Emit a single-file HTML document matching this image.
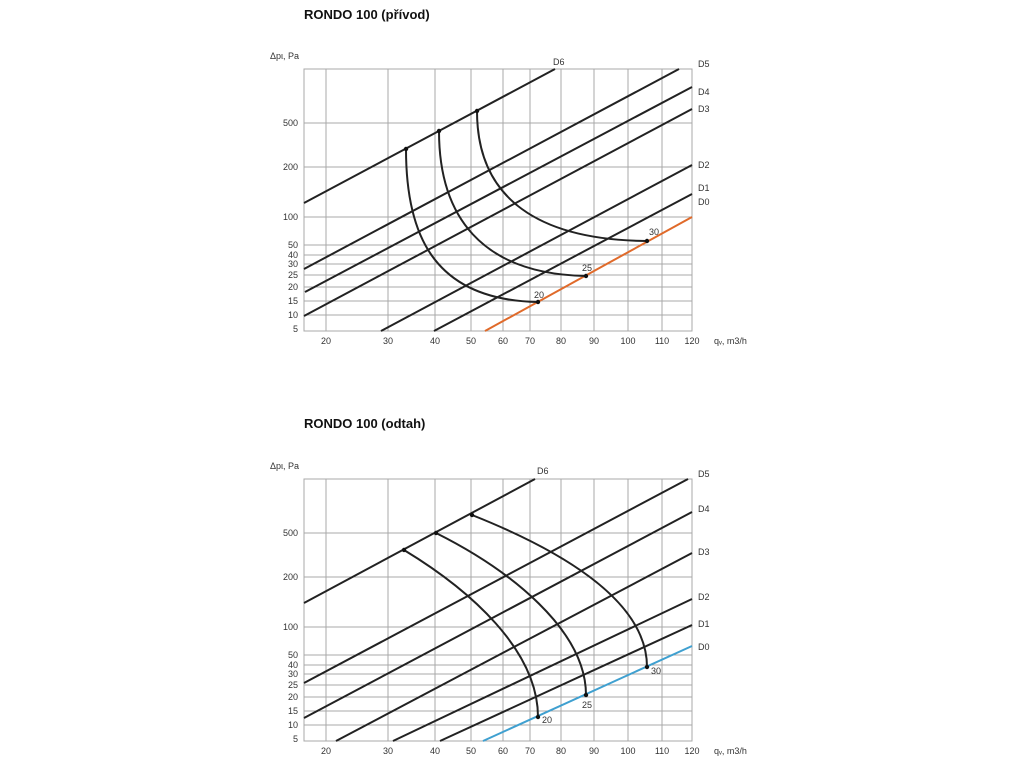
<!DOCTYPE html>
<html><head><meta charset="utf-8"><style>
html,body{margin:0;padding:0;background:#fff;}
svg{display:block;font-family:"Liberation Sans",sans-serif;}
.g{stroke:#a8a8a8;stroke-width:1;fill:none}
.l{stroke:#222;stroke-width:2;fill:none}
.t{font-size:9px;fill:#333}
</style></head><body>
<svg width="1024" height="768" viewBox="0 0 1024 768" xmlns="http://www.w3.org/2000/svg">
<defs>
<g id="grid">
 <rect x="304" y="69" width="388" height="262" class="g"/>
 <path class="g" d="M326,69V331M388,69V331M435,69V331M471,69V331M503,69V331M530,69V331M561,69V331M594,69V331M628,69V331M662,69V331
 M304,123H692M304,167H692M304,217H692M304,245H692M304,255H692M304,264H692M304,275H692M304,287H692M304,301H692M304,315H692"/>
 <g class="t" text-anchor="end">
  <text x="298" y="126">500</text><text x="298" y="170">200</text><text x="298" y="220">100</text>
  <text x="298" y="248">50</text><text x="298" y="258">40</text><text x="298" y="267">30</text>
  <text x="298" y="278">25</text><text x="298" y="290">20</text><text x="298" y="304">15</text>
  <text x="298" y="318">10</text><text x="298" y="332">5</text>
 </g>
 <g class="t" text-anchor="middle">
  <text x="326" y="344">20</text><text x="388" y="344">30</text><text x="435" y="344">40</text>
  <text x="471" y="344">50</text><text x="503" y="344">60</text><text x="530" y="344">70</text>
  <text x="561" y="344">80</text><text x="594" y="344">90</text><text x="628" y="344">100</text>
  <text x="662" y="344">110</text><text x="692" y="344">120</text>
 </g>
 <text class="t" x="714" y="344">qᵥ, m3/h</text>
</g>
</defs>

<text x="304" y="19" font-size="13" font-weight="bold" fill="#111">RONDO 100 (přívod)</text>
<text class="t" x="270" y="59">Δpι, Pa</text>
<use href="#grid"/>
<path class="l" d="M304,203L555,69M304,269L679,69M305,292L692,87M304,316L692,109M381,331L692,165M434,331L692,194"/>
<path d="M485,331L692,217" stroke="#e06a2a" stroke-width="2" fill="none"/>
<path class="l" d="M406,149C406,230 430,300 538,302M439,131C439,215 480,274 586,276M477,111C477,200 540,240 647,241"/>
<g fill="#111"><circle cx="406" cy="149" r="2.2"/><circle cx="439" cy="131" r="2.2"/><circle cx="477" cy="111" r="2.2"/><circle cx="538" cy="302" r="2.2"/><circle cx="586" cy="276" r="2.2"/><circle cx="647" cy="241" r="2.2"/></g>
<g class="t"><text x="534" y="298">20</text><text x="582" y="271">25</text><text x="649" y="235">30</text>
<text x="553" y="65">D6</text><text x="698" y="67">D5</text><text x="698" y="95">D4</text><text x="698" y="112">D3</text><text x="698" y="168">D2</text><text x="698" y="191">D1</text><text x="698" y="205">D0</text></g>

<text x="304" y="428" font-size="13" font-weight="bold" fill="#111">RONDO 100 (odtah)</text>
<text class="t" x="270" y="469">Δpι, Pa</text>
<use href="#grid" transform="translate(0,410)"/>
<path class="l" d="M304,603L535,479M304,683L688,479M304,718L692,512M336,741L692,553M393,741L692,599M440,741L692,625"/>
<path d="M483,741L692,646" stroke="#3fa0d0" stroke-width="2" fill="none"/>
<path class="l" d="M404,550C470,590 538,650 538,717M436,533C510,570 586,630 586,695M472,515C560,550 647,600 647,667"/>
<g fill="#111"><circle cx="404" cy="550" r="2.2"/><circle cx="436" cy="533" r="2.2"/><circle cx="472" cy="515" r="2.2"/><circle cx="538" cy="717" r="2.2"/><circle cx="586" cy="695" r="2.2"/><circle cx="647" cy="667" r="2.2"/></g>
<g class="t"><text x="542" y="723">20</text><text x="582" y="708">25</text><text x="651" y="674">30</text>
<text x="537" y="474">D6</text><text x="698" y="477">D5</text><text x="698" y="512">D4</text><text x="698" y="555">D3</text><text x="698" y="600">D2</text><text x="698" y="627">D1</text><text x="698" y="650">D0</text></g>
</svg>
</body></html>
